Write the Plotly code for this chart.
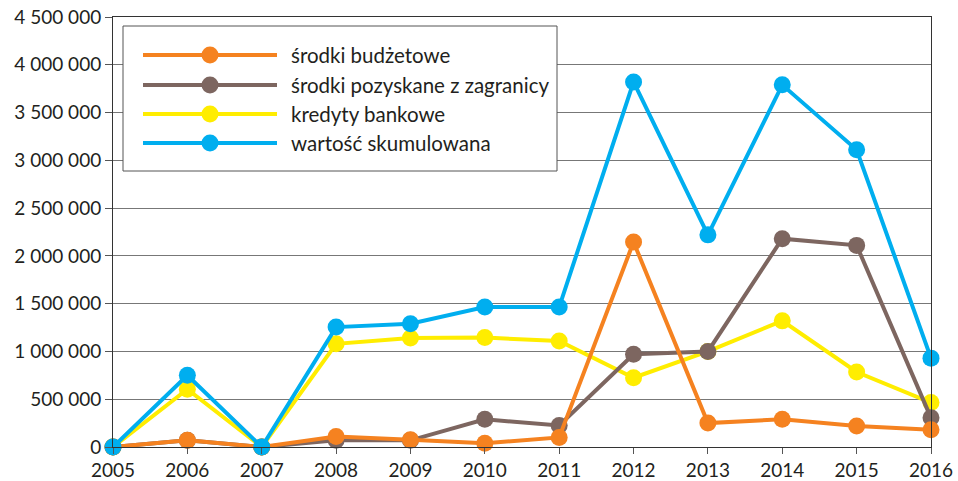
import plotly.graph_objects as go

years = [2005, 2006, 2007, 2008, 2009, 2010, 2011, 2012, 2013, 2014, 2015, 2016]
srodki_budzetowe = [0, 70000, 0, 110000, 75000, 40000, 100000, 2145000, 250000, 290000, 220000, 180000]
srodki_zagranica = [0, 70000, 0, 70000, 70000, 290000, 225000, 970000, 1000000, 2180000, 2110000, 305000]
kredyty_bankowe = [0, 605000, 0, 1080000, 1140000, 1145000, 1110000, 725000, 1000000, 1320000, 785000, 465000]
wartosc_skumulowana = [0, 750000, 0, 1255000, 1290000, 1465000, 1465000, 3820000, 2220000, 3790000, 3110000, 930000]

series_names = ["środki budżetowe", "środki pozyskane z zagranicy", "kredyty bankowe", "wartość skumulowana"]
series_values = [srodki_budzetowe, srodki_zagranica, kredyty_bankowe, wartosc_skumulowana]
series_colors = ["#F58220", "#7D6660", "#FFED00", "#00AEEF"]
draw_order = [2, 1, 0, 3]

y_ticks = [0, 500000, 1000000, 1500000, 2000000, 2500000, 3000000, 3500000, 4000000, 4500000]

FONT = "Lato, 'Noto Sans', sans-serif"
TXT = "#231F20"

fig = go.Figure()
for i in draw_order:
    fig.add_trace(go.Scatter(
        x=years, y=series_values[i], name=series_names[i], mode="lines+markers",
        line=dict(color=series_colors[i], width=4),
        marker=dict(color=series_colors[i], size=17),
        cliponaxis=False, showlegend=False,
    ))

# manual legend (box, long line samples, markers, labels)
W, L, R, T, B = 958, 113, 27, 17, 34
pw = W - L - R
ph = 481 - T - B
def px(x):
    return (x - L) / pw
def py(y):
    return (481 - B - y) / ph

fig.add_shape(type="rect", xref="paper", yref="paper",
              x0=px(123), x1=px(557), y0=py(171), y1=py(26),
              line=dict(color="#555555", width=1), fillcolor="white", layer="above")
rows = [55, 85, 114, 143]
for k in range(4):
    yy = py(rows[k])
    fig.add_shape(type="line", xref="paper", yref="paper",
                  x0=px(143), x1=px(277), y0=yy, y1=yy,
                  line=dict(color=series_colors[k], width=4), layer="above")
    fig.add_shape(type="circle", xref="paper", yref="paper",
                  xsizemode="pixel", ysizemode="pixel",
                  xanchor=px(210), yanchor=yy, x0=-8.5, x1=8.5, y0=-8.5, y1=8.5,
                  line=dict(width=0), fillcolor=series_colors[k], layer="above")
    fig.add_annotation(xref="paper", yref="paper", x=px(289), y=yy,
                       text=series_names[k], showarrow=False, xanchor="left", yanchor="middle",
                       font=dict(family=FONT, size=20.5, color=TXT))

fig.update_layout(
    width=958, height=481,
    margin=dict(l=L, r=R, t=T, b=B, pad=0),
    paper_bgcolor="white", plot_bgcolor="white",
    separators=", ",
    font=dict(family=FONT, size=19, color=TXT),
    xaxis=dict(range=[2005, 2016], tickvals=years, ticktext=[str(y) for y in years],
               showgrid=False, zeroline=False, showline=True, mirror=True,
               linecolor="#333333", linewidth=1, automargin=False,
               ticks="outside", ticklen=6, tickcolor="#555555",
               tickfont=dict(family=FONT, size=19, color=TXT)),
    yaxis=dict(range=[0, 4500000], tickvals=y_ticks, tickformat=",d",
               showgrid=True, gridcolor="#777777", gridwidth=1, zeroline=False,
               showline=True, mirror=True, linecolor="#333333", linewidth=1, automargin=False,
               ticks="outside", ticklen=7, tickcolor="#555555",
               tickfont=dict(family=FONT, size=19, color=TXT)),
)

fig.write_html("out.html", config={"displayModeBar": False},
               post_script="document.body.style.margin='0';document.body.style.overflow='hidden';")
